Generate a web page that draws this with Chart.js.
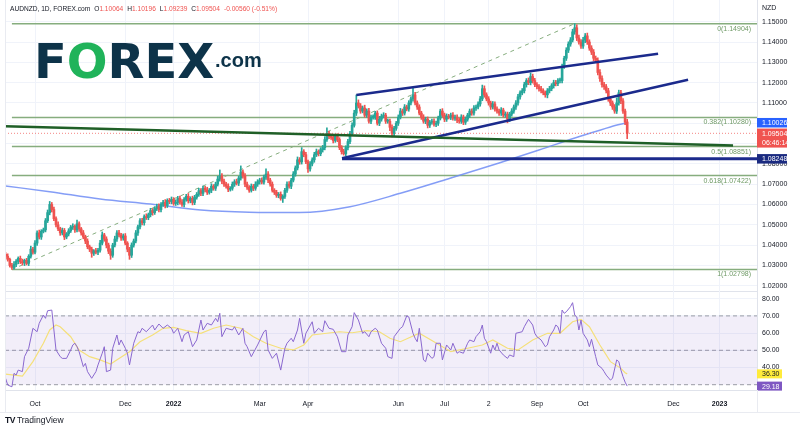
<!DOCTYPE html>
<html>
<head>
<meta charset="utf-8">
<script src="https://cdn.jsdelivr.net/npm/chart.js@4.4.1/dist/chart.umd.min.js"></script>
<style>
  html, body { margin:0; padding:0; background:#ffffff; }
  body { width:800px; height:432px; position:relative; overflow:hidden; font-family:'Liberation Sans', Arial, sans-serif; }
  canvas { position:absolute; left:0; }
  #mainCanvas { top:0; }
  #rsiCanvas { top:291px; }
  .ov { position:absolute; white-space:nowrap; pointer-events:none; }
  #hdr { left:10px; top:4px; font-size:6.6px; color:#131722; line-height:10px; }
  #hdr .v { color:#ef5350; }
  #hdr .s { margin-left:4px; }
  #logo { left:34px; top:37px; font-family:'DejaVu Sans', sans-serif; font-weight:bold; font-size:48px; line-height:48px; color:#0d3349; }
  #logo .g { color:#20b35a; }
  #dotcom { left:215px; top:50px; font-family:'Liberation Sans', Arial, sans-serif; font-weight:bold; font-size:20px; line-height:20px; color:#0d3349; }
  #nzd { left:762px; top:4px; font-size:7px; color:#131722; }
  #footer { left:5px; top:415px; font-size:8.5px; color:#131722; }
  #footer b { font-weight:900; letter-spacing:-0.5px; margin-right:2px; }
  .ln { position:absolute; background:#e9ebf1; }
</style>
</head>
<body>
<canvas id="mainCanvas" width="800" height="292"></canvas>
<canvas id="rsiCanvas" width="800" height="122"></canvas>
<div class="ln" style="left:5px;top:0;width:1px;height:412px"></div>
<div class="ln" style="left:0;top:412px;width:800px;height:1px"></div>
<div class="ln" style="left:757px;top:390px;width:1px;height:22px"></div>
<div id="hdr" class="ov"></div>
<div id="logo" class="ov">F<span class="g">O</span>REX</div>
<div id="dotcom" class="ov">.com</div>
<div id="nzd" class="ov">NZD</div>
<div id="footer" class="ov"><b>TV</b>TradingView</div>
<script>
// ================= DATA =================
// bar index 0 = first trading day of Oct 2021; first candle is index FIRST_BAR
const FIRST_BAR = -14;
const firstOpen = 1.0355;
const closes = [
  1.0345,1.0330,1.0300,1.0290,1.0305,1.0320,1.0335,1.0318,1.0312,1.0325,1.0310,1.0345,1.0380,1.0365,
  1.0410,1.0460,1.0440,1.0468,1.0475,1.0520,1.0560,1.0600,1.0575,1.0530,
  1.0500,1.0480,1.0460,1.0472,1.0440,1.0455,1.0470,1.0488,1.0492,1.0475,
  1.0505,1.0480,1.0460,1.0440,1.0420,1.0392,1.0380,1.0360,1.0372,1.0365,
  1.0375,1.0410,1.0450,1.0430,1.0400,1.0370,1.0350,1.0400,1.0430,1.0460,
  1.0450,1.0435,1.0445,1.0410,1.0380,1.0350,1.0400,1.0420,1.0460,1.0490,
  1.0520,1.0510,1.0540,1.0535,1.0550,1.0570,1.0560,1.0580,1.0590,1.0575,
  1.0600,1.0610,1.0595,1.0620,1.0615,1.0625,1.0605,1.0610,1.0630,1.0612,
  1.0600,1.0625,1.0640,1.0618,1.0630,1.0610,1.0635,1.0650,1.0668,1.0655,
  1.0680,1.0672,1.0660,1.0670,1.0690,1.0680,1.0700,1.0725,1.0740,1.0715,
  1.0700,1.0690,1.0675,1.0680,1.0700,1.0712,1.0705,1.0730,1.0760,1.0740,
  1.0700,1.0685,1.0670,1.0690,1.0680,1.0700,1.0712,1.0720,1.0710,1.0735,
  1.0750,1.0720,1.0700,1.0670,1.0660,1.0645,1.0650,1.0630,1.0640,1.0670,
  1.0700,1.0690,1.0720,1.0750,1.0780,1.0820,1.0810,1.0860,1.0845,1.0810,
  1.0775,1.0800,1.0820,1.0845,1.0860,1.0850,1.0870,1.0880,1.0920,1.0950,
  1.0935,1.0930,1.0915,1.0935,1.0920,1.0880,1.0860,1.0850,1.0880,1.0910,
  1.0950,1.0990,1.1050,1.1100,1.1085,1.1060,1.1075,1.1040,1.1060,1.1010,
  1.1030,1.1030,1.1050,1.1000,1.1020,1.1035,1.1040,1.1010,1.1010,1.0980,
  1.0950,1.0975,1.1000,1.1030,1.1060,1.1050,1.1080,1.1070,1.1100,1.1120,
  1.1140,1.1100,1.1080,1.1050,1.1030,1.1010,1.1020,1.0990,1.1005,1.1010,
  1.0995,1.1000,1.1025,1.1060,1.1040,1.1020,1.1035,1.1030,1.1040,1.1025,
  1.1030,1.1015,1.1010,1.1030,1.1005,1.1020,1.1040,1.1060,1.1050,1.1075,
  1.1080,1.1095,1.1120,1.1170,1.1140,1.1120,1.1100,1.1080,1.1095,1.1070,
  1.1060,1.1050,1.1065,1.1040,1.1045,1.1020,1.1045,1.1060,1.1080,1.1100,
  1.1130,1.1150,1.1160,1.1190,1.1210,1.1200,1.1230,1.1210,1.1190,1.1180,
  1.1170,1.1160,1.1150,1.1140,1.1160,1.1170,1.1185,1.1200,1.1195,1.1210,
  1.1210,1.1280,1.1320,1.1360,1.1390,1.1410,1.1450,1.1470,1.1420,1.1400,
  1.1380,1.1410,1.1430,1.1400,1.1370,1.1350,1.1320,1.1310,1.1250,1.1220,
  1.1190,1.1180,1.1160,1.1120,1.1100,1.1080,1.1060,1.1100,1.1150,1.1110,
  1.1060,1.10064,1.09504
];
// wick lengths beyond the candle body, in pips
const upperWick = [
  8,12,6,10,14,9,7,11,13,6,10,8,15,9,
  12,10,14,8,9,11,13,15,10,12,
  9,14,8,12,10,7,11,9,13,8,
  18,10,7,12,9,11,8,10,6,12,
  9,13,15,8,11,10,12,9,14,11,
  13,8,10,12,7,9,11,10,12,8,
  10,12,9,14,8,11,10,9,12,13,
  9,11,14,8,10,12,9,13,10,11,
  12,9,10,14,8,11,10,9,12,10,
  11,10,13,9,12,8,10,14,30,12,
  10,9,12,8,11,10,13,9,30,11,
  12,10,8,11,9,12,10,9,11,10,
  25,12,9,11,8,10,9,12,8,10,
  11,13,9,12,10,14,11,20,10,12,
  9,11,10,12,13,9,10,11,14,27,
  10,12,9,11,13,9,10,12,9,11,
  10,12,14,39,15,12,10,14,11,13,
  10,12,9,11,14,10,12,9,11,10,
  12,10,9,11,13,10,12,9,11,10,
  33,12,10,11,9,12,10,11,9,10,
  12,11,10,9,12,10,11,9,10,12,
  10,11,9,12,10,11,9,10,11,12,
  10,11,12,18,14,10,11,9,12,10,
  11,10,12,9,11,10,9,12,10,11,
  12,10,11,12,10,13,17,12,11,10,
  11,12,10,9,11,12,10,12,11,10,
  12,11,10,12,11,12,13,20.4,15,14,
  12,13,12,14,11,12,13,11,12,14,
  13,12,11,12,11,10,12,25,13,12,
  12,10,13.2
];
const lowerWick = [
  10,9,8,10.2,8,11,12,9,10,13,8,11,9,10,
  9,11,10,12,8,10,9,11,12,10,
  11,9,12,10,13,9,10,8,11,12,
  10,12,11,9,13,10,12,20,11,9,
  12,10,9,11,14,12,20,10,9,12,
  10,12,11,9,13,20,11,10,9,12,
  10,11,12,9,10,11,13,9,10,12,
  11,9,12,10,11,12,9,10,12,11,
  10,12,9,11,10,12,11,9,10,12,
  12,10,11,9,12,10,11,9,10,12,
  11,10,12,9,10,11,9,12,10,11,
  12,11,10,9,12,10,11,12,9,10,
  11,12,10,9,11,10,12,9,20,10,
  11,10,12,9,11,10,12,11,10,9,
  17,11,10,12,9,11,10,12,11,10,
  11,10,12,9,11,10,12,7,10,11,
  10,11,9,12,10,11,9,10,11,10,
  12,10,11,9,12,10,9,11,10,17,
  17,12,10,11,9,12,10,9,11,10,
  11,10,12,9,11,10,12,13,11,10,
  10,12,11,9,10,12,11,9,12,10,
  11,12,10,11,12,11,10,12,11,10,
  12,10,11,9,12,10,11,12,10,11,
  10,11,12,10,11,18,12,10,11,12,
  11,12,10,11,12,10,11,12,10,11,
  12,11,10,12,15,11,10,12,11,10,
  11,12,10,11,12,11,10,12,13,11,
  12,11,13,12,11,12,13,11,12,14,
  12,13,11,12,13,12,11,12,11,13,
  12,13,26.5
];

const xTickIdx    = [0, 43, 66, 107, 130, 173, 195, 216, 239, 261, 304, 326];
const xTickLabels = ['Oct','Dec','2022','Mar','Apr','Jun','Jul','2','Sep','Oct','Dec','2023'];
const priceTicks  = [1.02,1.03,1.04,1.05,1.06,1.07,1.08,1.09,1.10,1.11,1.12,1.13,1.14,1.15];
const rsiTicks    = [40,50,60,70,80];

const fibRatios = [0, 0.382, 0.5, 0.618, 1];
const fibPrices = [1.14904, 1.10280, 1.08851, 1.07422, 1.02798];
const fibFromBar = -11, fibToBar = 257;

// 200-day moving average (bar index, value)
const maIdx = [-14, 7, 31, 55, 79, 102, 126, 150, 174, 198, 221, 240, 260, 274, 282];
const maVal = [1.0691,1.0663,1.0627,1.0602,1.0573,1.0562,1.0560,1.0589,1.0655,1.0730,1.0804,1.0868,1.0937,1.0982,1.10026];

// hand-drawn trendlines (bar index, price)
const greenLine = [[-14.3, 1.0985], [332.4, 1.0890]];
const chanUpper = [[153, 1.1139], [296.7, 1.1342]];
const chanLower = [[146.2, 1.0828], [311, 1.1214]];
const supportPrice = 1.08248, supportFrom = 146.2;

// RSI(14) and its moving average (bar index, value)
const rsiPts = [[-14,33.7],[-13,29.8],[-11,28.8],[-10,36.6],[-9,35.6],[-8,38.5],[-6,37.6],[-5,46.3],[-3,51.2],[-1,62.8],[1,60.8],[2,65.7],[4,70.5],[5,68.6],[6,73.0],[8,73.4],[9,61.8],[10,50.2],[12,46.3],[13,45.3],[15,45.3],[17,50.2],[18,53.1],[19,54.1],[20,52.1],[21,49.2],[23,40.5],[24,42.4],[25,37.6],[27,33.7],[29,37.6],[30,41.5],[32,48.3],[33,52.1],[34,37.6],[36,38.5],[37,51.2],[39,58.9],[40,53.1],[41,56.0],[43,51.2],[44,48.3],[45,41.5],[47,54.1],[49,60.8],[50,60.2],[51,62.8],[53,60.8],[56,64.7],[57,61.8],[59,65.3],[61,62.8],[63,64.7],[65,62.8],[66,59.9],[68,62.8],[70,55.0],[71,58.9],[73,60.8],[75,52.1],[77,56.0],[79,67.6],[80,61.8],[82,65.7],[84,64.7],[86,68.6],[87,66.6],[88,71.5],[89,57.9],[91,62.8],[94,61.8],[95,63.7],[97,58.9],[99,62.8],[100,54.1],[101,52.1],[103,46.3],[106,53.1],[109,60.8],[110,61.8],[111,50.2],[113,45.3],[115,48.3],[117,38.5],[119,51.2],[120,54.1],[122,57.0],[123,55.0],[125,61.8],[126,68.6],[128,54.1],[129,59.9],[132,66.6],[133,59.9],[135,62.8],[137,60.8],[138,67.2],[140,62.8],[142,62.2],[144,57.9],[146,49.2],[148,49.2],[149,58.9],[151,63.7],[152,71.9],[154,67.6],[156,59.9],[157,60.8],[159,57.9],[160,60.8],[162,62.8],[163,61.8],[165,54.1],[167,51.2],[168,46.3],[170,45.3],[171,57.9],[174,62.8],[175,63.7],[177,70.0],[178,69.4],[180,59.9],[181,57.0],[182,55.0],[183,62.8],[185,44.4],[186,43.4],[187,48.3],[189,45.3],[190,46.3],[191,54.1],[193,54.1],[194,44.4],[196,53.1],[198,50.2],[199,54.1],[201,48.3],[202,49.2],[204,48.3],[206,54.1],[207,56.0],[209,55.0],[210,57.9],[212,60.8],[213,64.7],[214,57.0],[215,55.0],[217,48.3],[218,53.1],[219,50.2],[220,54.1],[221,50.2],[223,47.3],[225,45.3],[226,47.3],[228,46.3],[229,59.9],[232,60.8],[233,63.7],[235,68.0],[237,64.7],[238,59.9],[239,57.9],[241,56.0],[243,52.1],[244,53.1],[245,57.9],[247,61.8],[248,64.7],[249,63.7],[250,59.9],[251,73.4],[252,71.5],[253,72.4],[255,75.4],[256,77.7],[257,70.5],[258,69.4],[259,61.8],[260,67.6],[261,59.9],[263,56.0],[264,52.1],[265,56.4],[267,46.3],[268,41.5],[270,39.5],[271,37.6],[272,35.6],[274,32.7],[275,33.7],[277,44.4],[278,43.4],[279,38.5],[280,34.7],[281,31.5],[282,29.18]];
const rsiMaPts = [[-14,36.2],[-6,35.0],[-1,43.4],[4,54.1],[7,61.8],[10,64.7],[12,63.7],[17,57.9],[21,50.2],[26,46.3],[31,44.4],[36,42.0],[40,45.3],[45,49.2],[50,55.0],[56,58.9],[61,62.8],[66,63.3],[72,61.4],[79,59.9],[85,62.8],[91,64.7],[98,62.8],[104,57.9],[110,54.1],[117,51.2],[123,50.2],[128,53.1],[132,58.9],[139,59.9],[145,60.8],[151,60.2],[158,61.4],[164,60.8],[169,57.0],[174,55.0],[183,59.9],[190,55.0],[198,49.2],[206,51.2],[213,53.1],[218,56.0],[225,51.2],[230,50.2],[237,56.0],[244,59.9],[250,59.9],[256,66.6],[260,68.0],[264,63.7],[269,53.1],[274,43.4],[279,39.5],[281,37.0],[282,36.30]];
const rsiUpper = 70, rsiMid = 50, rsiLower = 30;
const countdown = '06:46:14';

// visible window of the two panes
const X_MIN = -14.29, X_MAX = 343.81;
const Y_MIN = 1.017404, Y_MAX = 1.160684;
const R_MIN = 26.92, R_MAX = 84.48;

// ================= STYLE =================
const UP = '#26a69a', DN = '#ef5350';
const FIB = '#86ad7e', FIB_TXT = '#6f9a66';
const NAVY = '#1b2a8c', DKGREEN = '#1f5f27', MA_BLUE = 'rgba(110,140,245,0.85)';
const GRID = '#f0f3fa', BORDER = '#e0e3eb', TXT = '#131722';
const FONT = "'Liberation Sans', Arial, sans-serif";
Chart.defaults.font.family = FONT;

// ================= BUILD =================
const bodies = [], wicks = [], bodyCols = [];
let prev = firstOpen;
closes.forEach((c, k) => {
  const i = FIRST_BAR + k, o = prev;
  const hi = Math.max(o, c) + upperWick[k] / 1e4;
  const lo = Math.min(o, c) - lowerWick[k] / 1e4;
  bodies.push({x: i, y: [o, c]});
  wicks.push({x: i, y: [lo, hi]});
  bodyCols.push(c >= o ? UP : DN);
  prev = c;
});
const lastK = closes.length - 1;
const lastClose = closes[lastK], lastOpen = closes[lastK - 1];
const lastHigh = Math.max(lastOpen, lastClose) + upperWick[lastK] / 1e4;
const lastLow = Math.min(lastOpen, lastClose) - lowerWick[lastK] / 1e4;
const chg = lastClose - lastOpen;

document.getElementById('hdr').innerHTML =
  'AUDNZD, 1D, FOREX.com<span class="s">O</span><span class="v">' + lastOpen.toFixed(5) +
  '</span><span class="s">H</span><span class="v">' + lastHigh.toFixed(5) +
  '</span><span class="s">L</span><span class="v">' + lastLow.toFixed(5) +
  '</span><span class="s">C</span><span class="v">' + lastClose.toFixed(5) +
  '</span><span class="v s">' + chg.toFixed(5) + ' (' + (chg / lastOpen * 100).toFixed(2) + '%)</span>';

const line = (pts, color, width, extra) => Object.assign({
  type: 'line', data: pts.map(p => ({x: p[0], y: p[1]})), borderColor: color, borderWidth: width,
  pointRadius: 0, fill: false, tension: 0
}, extra || {});

const mainSets = [];
mainSets.push(line(greenLine, DKGREEN, 2.5, {order: 1}));
mainSets.push(line(chanUpper, NAVY, 2.5, {order: 1}));
mainSets.push(line(chanLower, NAVY, 2.5, {order: 1}));
mainSets.push(line([[supportFrom, supportPrice], [X_MAX, supportPrice]], NAVY, 3, {order: 1}));
mainSets.push(line([[X_MIN, lastClose], [X_MAX, lastClose]], 'rgba(239,83,80,0.7)', 1, {borderDash: [1, 2], order: 3}));
fibPrices.forEach(p => mainSets.push(line([[fibFromBar, p], [X_MAX, p]], FIB, 1.5, {order: 8})));
mainSets.push(line([[fibFromBar, fibPrices[4]], [fibToBar, fibPrices[0]]], FIB, 1, {borderDash: [4, 4], order: 8}));
mainSets.push(line(maIdx.map((v, k) => [v, maVal[k]]), MA_BLUE, 1.5, {cubicInterpolationMode: 'monotone', order: 7}));
mainSets.push({type: 'bar', data: bodies, backgroundColor: bodyCols, borderWidth: 0, barThickness: 2, minBarLength: 1, grouped: false, order: 5});
mainSets.push({type: 'bar', data: wicks, backgroundColor: bodyCols, borderWidth: 0, barThickness: 1, grouped: false, order: 6});

const mainLabels = {
  id: 'mainLabels',
  afterDraw(chart) {
    const {ctx, chartArea: a} = chart, y = chart.scales.y;
    ctx.save();
    ctx.font = '7px ' + FONT;
    ctx.textBaseline = 'middle';
    ctx.textAlign = 'right';
    ctx.fillStyle = FIB_TXT;
    fibPrices.forEach((p, k) => ctx.fillText(fibRatios[k] + '(' + p.toFixed(5) + ')', a.right - 6, y.getPixelForValue(p) + 5));
    ctx.textAlign = 'left';
    const box = (val, bg, rows) => {
      const yc = y.getPixelForValue(val), h = 9.5;
      ctx.fillStyle = bg;
      ctx.fillRect(a.right, yc - h / 2, 30, h * rows.length);
      ctx.fillStyle = '#ffffff';
      rows.forEach((t, r) => ctx.fillText(t, a.right + 5, yc + r * h + 0.5));
    };
    box(maVal[maVal.length - 1], '#2962ff', [maVal[maVal.length - 1].toFixed(5)]);
    box(lastClose, '#f05350', [lastClose.toFixed(5), countdown]);
    box(supportPrice, '#1a2a80', [supportPrice.toFixed(5)]);
    ctx.restore();
  }
};

new Chart(document.getElementById('mainCanvas'), {
  type: 'bar',
  data: {datasets: mainSets},
  options: {
    responsive: false, animation: false, devicePixelRatio: 1,
    layout: {padding: {left: 5, right: 0, top: 0, bottom: 0}},
    plugins: {legend: {display: false}, tooltip: {enabled: false}},
    scales: {
      x: {
        type: 'linear', min: X_MIN, max: X_MAX, offset: false,
        grid: {offset: false, color: GRID, drawTicks: false},
        border: {display: true, color: BORDER},
        ticks: {display: false},
        afterBuildTicks: s => { s.ticks = xTickIdx.map(v => ({value: v})); },
        afterFit: s => { s.height = 1; s.paddingLeft = 0; s.paddingRight = 0; }
      },
      y: {
        type: 'linear', position: 'right', min: Y_MIN, max: Y_MAX, beginAtZero: false,
        grid: {color: GRID, drawTicks: false},
        border: {display: true, color: BORDER},
        ticks: {padding: 5, color: TXT, font: {size: 7}, autoSkip: false, callback: v => Number(v).toFixed(5)},
        afterBuildTicks: s => { s.ticks = priceTicks.map(v => ({value: v})); },
        afterFit: s => { s.width = 43; s.paddingTop = 0; s.paddingBottom = 0; }
      }
    }
  },
  plugins: [mainLabels]
});

// ---------- RSI pane ----------
const rsiSets = [
  line([[X_MIN, rsiUpper], [X_MAX, rsiUpper]], '#9a9ca6', 1, {borderDash: [4, 3], order: 5}),
  line([[X_MIN, rsiLower], [X_MAX, rsiLower]], '#9a9ca6', 1, {borderDash: [4, 3], fill: '-1', backgroundColor: 'rgba(126,87,194,0.10)', order: 5}),
  line([[X_MIN, rsiMid], [X_MAX, rsiMid]], '#9a9ca6', 1, {borderDash: [4, 3], order: 5}),
  line(rsiMaPts, '#f5e07a', 1.2, {order: 2}),
  line(rsiPts, '#8a68cf', 1, {order: 1})
];

const rsiLabels = {
  id: 'rsiLabels',
  afterDraw(chart) {
    const {ctx, chartArea: a} = chart, y = chart.scales.y;
    ctx.save();
    ctx.font = '7px ' + FONT;
    ctx.textBaseline = 'middle';
    ctx.textAlign = 'left';
    const box = (val, bg, fg) => {
      const yc = y.getPixelForValue(val), h = 9;
      ctx.fillStyle = bg;
      ctx.fillRect(a.right, yc - h / 2, 25, h);
      ctx.fillStyle = fg;
      ctx.fillText(val.toFixed(2), a.right + 5, yc + 0.5);
    };
    box(rsiMaPts[rsiMaPts.length - 1][1], '#ffeb3b', TXT);
    box(rsiPts[rsiPts.length - 1][1], '#7e57c2', '#ffffff');
    ctx.restore();
  }
};

new Chart(document.getElementById('rsiCanvas'), {
  type: 'line',
  data: {datasets: rsiSets},
  options: {
    responsive: false, animation: false, devicePixelRatio: 1,
    layout: {padding: {left: 5, right: 0, top: 0, bottom: 0}},
    plugins: {legend: {display: false}, tooltip: {enabled: false}, filler: {propagate: false}},
    scales: {
      x: {
        type: 'linear', min: X_MIN, max: X_MAX, offset: false,
        grid: {offset: false, color: GRID, drawTicks: false},
        border: {display: true, color: BORDER},
        ticks: {
          padding: 10, color: TXT, autoSkip: false, maxRotation: 0,
          font: c => ({size: 7, weight: /^\d{4}$/.test(xTickLabels[xTickIdx.indexOf(c.tick && c.tick.value)] || '') ? 'bold' : 'normal'}),
          callback: v => xTickLabels[xTickIdx.indexOf(v)]
        },
        afterBuildTicks: s => { s.ticks = xTickIdx.map(v => ({value: v})); },
        afterFit: s => { s.height = 23; s.paddingLeft = 0; s.paddingRight = 0; }
      },
      y: {
        type: 'linear', position: 'right', min: R_MIN, max: R_MAX,
        grid: {color: GRID, drawTicks: false},
        border: {display: true, color: BORDER},
        ticks: {padding: 5, color: TXT, font: {size: 7}, autoSkip: false, callback: v => Number(v).toFixed(2)},
        afterBuildTicks: s => { s.ticks = rsiTicks.map(v => ({value: v})); },
        afterFit: s => { s.width = 43; s.paddingTop = 0; s.paddingBottom = 0; }
      }
    }
  },
  plugins: [rsiLabels]
});
</script>
</body>
</html>
